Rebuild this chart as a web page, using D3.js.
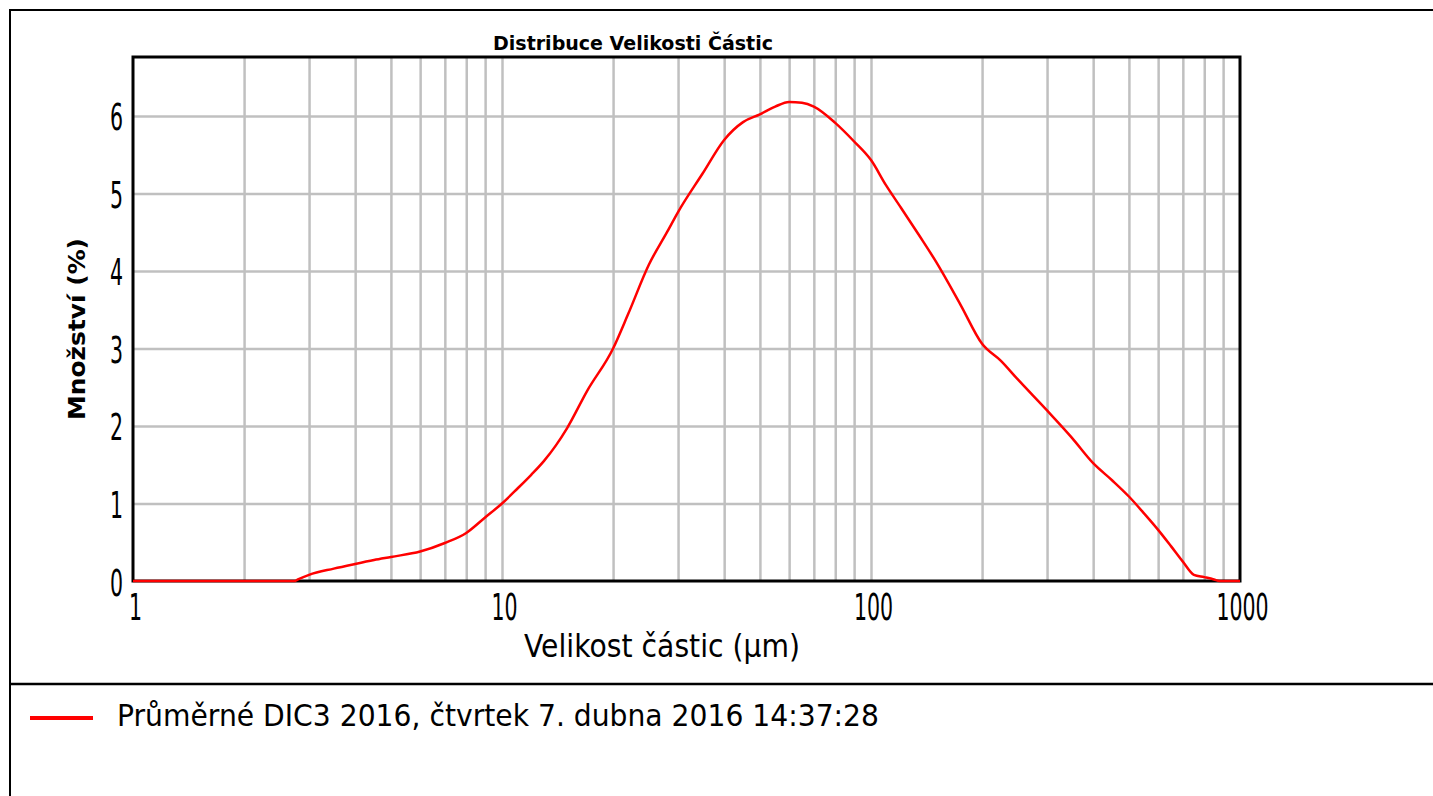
<!DOCTYPE html>
<html>
<head>
<meta charset="utf-8">
<script src="https://cdn.jsdelivr.net/npm/d3@7/dist/d3.min.js"></script>
<style>
  html, body { margin: 0; padding: 0; background: #fff; }
  svg { display: block; }
  text { font-family: "DejaVu Sans", Verdana, sans-serif; fill: #000; }
</style>
</head>
<body>
<svg id="chart" width="1433" height="796"></svg>
<script>
// ---- Data ----
const sizes = [1, 2.75, 2.8, 3, 3.5, 4, 4.5, 5, 6, 7, 8, 9, 10, 11, 12, 13, 14, 15, 17, 20, 22, 25, 28, 30, 35, 40, 45, 50, 55, 60, 65, 70, 80, 90, 100, 110, 120, 135, 150, 175, 200, 225, 250, 300, 350, 400, 450, 500, 550, 600, 650, 700, 750, 800, 850, 880, 1000];
const amounts = [0, 0, 0.02, 0.08, 0.16, 0.22, 0.27, 0.31, 0.38, 0.49, 0.62, 0.82, 1.0, 1.19, 1.37, 1.55, 1.75, 1.97, 2.45, 3.0, 3.45, 4.08, 4.5, 4.76, 5.26, 5.69, 5.92, 6.02, 6.12, 6.18, 6.17, 6.12, 5.91, 5.67, 5.43, 5.1, 4.83, 4.46, 4.12, 3.56, 3.06, 2.84, 2.6, 2.2, 1.85, 1.52, 1.3, 1.09, 0.87, 0.66, 0.45, 0.25, 0.08, 0.05, 0.02, 0, 0];
const xTickLabels = [1, 10, 100, 1000];
const yTickLabels = [0, 1, 2, 3, 4, 5, 6];
const xGrid = [2,3,4,5,6,7,8,9,10,20,30,40,50,60,70,80,90,100,200,300,400,500,600,700,800,900];
const yGrid = [1, 2, 3, 4, 5, 6];
const titleText = "Distribuce Velikosti Částic";
const xTitle = "Velikost částic (µm)";
const yTitle = "Množství (%)";
const seriesName = "Průměrné DIC3 2016, čtvrtek 7. dubna 2016 14:37:28";

// ---- Layout ----
const svg = d3.select("#chart");
const L = 133, R = 1240, T = 57, B = 581;
const x = d3.scaleLog().domain([1, 1000]).range([L, R]);
const y = d3.scaleLinear().domain([0, 6.76]).range([B, T]);

svg.append("rect").attr("width", 1433).attr("height", 796).attr("fill", "#fff");
// outer frame
svg.append("rect").attr("x", 10).attr("y", 10).attr("width", 1440).attr("height", 800)
  .attr("fill", "none").attr("stroke", "#000").attr("stroke-width", 2);
svg.append("line").attr("x1", 10).attr("x2", 1433).attr("y1", 684).attr("y2", 684)
  .attr("stroke", "#000").attr("stroke-width", 2.5);

// grid
const gx = svg.append("g").attr("transform", `translate(0,${B})`)
  .call(d3.axisBottom(x).tickValues(xGrid).tickSize(-(B - T)).tickFormat(""));
gx.select(".domain").remove();
gx.selectAll("line").attr("stroke", "#c0c0c0").attr("stroke-width", 2.5);

const gy = svg.append("g").attr("transform", `translate(${L},0)`)
  .call(d3.axisLeft(y).tickValues(yGrid).tickSize(-(R - L)).tickFormat(""));
gy.select(".domain").remove();
gy.selectAll("line").attr("stroke", "#c0c0c0").attr("stroke-width", 2.5);

// plot border
svg.append("rect").attr("x", L).attr("y", T).attr("width", R - L).attr("height", B - T)
  .attr("fill", "none").attr("stroke", "#000").attr("stroke-width", 3);

// tick labels
const ax = svg.append("g").attr("transform", `translate(0,${B})`)
  .call(d3.axisBottom(x).tickValues(xTickLabels).tickSize(0).tickFormat(d3.format("d")));
ax.select(".domain").remove();
ax.selectAll("text").attr("font-size", 38).attr("y", 0).attr("dy", 0)
  .attr("font-family", "DejaVu Sans")
  .attr("transform", "translate(2,39) scale(0.54,1)");

const ay = svg.append("g").attr("transform", `translate(${L},0)`)
  .call(d3.axisLeft(y).tickValues(yTickLabels).tickSize(0).tickFormat(d3.format("d")));
ay.select(".domain").remove();
ay.selectAll("text").attr("font-size", 38).attr("x", 0).attr("dy", 0)
  .attr("font-family", "DejaVu Sans")
  .attr("transform", "translate(-10,14) scale(0.54,1)");

// line
const line = d3.line().x((d, i) => x(sizes[i])).y(d => y(d)).curve(d3.curveMonotoneX);
svg.append("path").datum(amounts).attr("d", line)
  .attr("fill", "none").attr("stroke", "#ff0000").attr("stroke-width", 2.5)
  .attr("stroke-linejoin", "round");

// titles
svg.append("text").attr("x", 633).attr("y", 50).attr("text-anchor", "middle")
  .attr("font-size", 20).attr("font-weight", "bold")
  .attr("textLength", 280).attr("lengthAdjust", "spacingAndGlyphs").text(titleText);

svg.append("text").attr("x", 662).attr("y", 657).attr("text-anchor", "middle")
  .attr("font-size", 32)
  .attr("textLength", 276).attr("lengthAdjust", "spacingAndGlyphs").text(xTitle);

svg.append("text").attr("transform", "translate(85,329) rotate(-90)").attr("text-anchor", "middle")
  .attr("font-size", 23).attr("font-weight", "bold")
  .attr("textLength", 182).attr("lengthAdjust", "spacingAndGlyphs").text(yTitle);

// legend
svg.append("line").attr("x1", 30).attr("x2", 93).attr("y1", 718).attr("y2", 718)
  .attr("stroke", "#ff0000").attr("stroke-width", 4);
svg.append("text").attr("x", 117).attr("y", 726)
  .attr("font-size", 30)
  .attr("textLength", 762).attr("lengthAdjust", "spacingAndGlyphs").text(seriesName);
</script>
</body>
</html>
